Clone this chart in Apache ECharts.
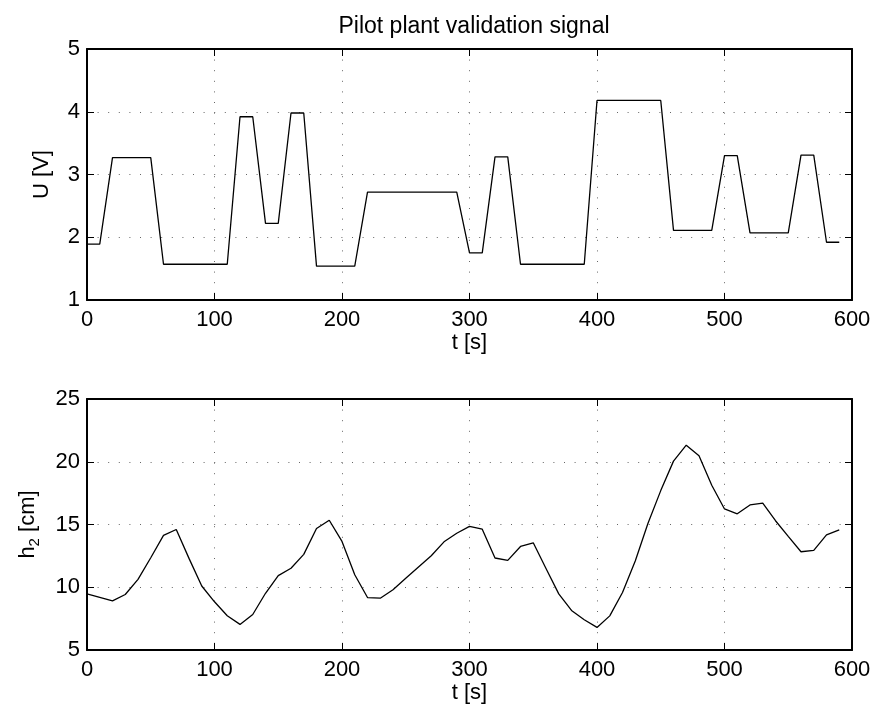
<!DOCTYPE html>
<html lang="en">
<head>
    <meta charset="UTF-8">
    <title>Pilot plant validation signal</title>
    <script type="text/javascript" src="https://cdn.jsdelivr.net/npm/echarts@6/dist/echarts.min.js"></script>
    <style>
        body { margin: 0; background: #fff; }
        #chart { width: 877px; height: 719px; }
    </style>
</head>
<body>

<div id="chart"></div>

<script type="text/javascript">

    // time axis, one sample every 10 s
    var tSec = [0, 10, 20, 30, 40, 50, 60, 70, 80, 90,
        100, 110, 120, 130, 140, 150, 160, 170, 180, 190,
        200, 210, 220, 230, 240, 250, 260, 270, 280, 290,
        300, 310, 320, 330, 340, 350, 360, 370, 380, 390,
        400, 410, 420, 430, 440, 450, 460, 470, 480, 490,
        500, 510, 520, 530, 540, 550, 560, 570, 580, 590];

    // input voltage U [V]
    var uVolt = [1.89, 1.89, 3.27, 3.27, 3.27, 3.27, 1.57, 1.57, 1.57, 1.57,
        1.57, 1.57, 3.92, 3.92, 2.22, 2.22, 3.98, 3.98, 1.54, 1.54,
        1.54, 1.54, 2.72, 2.72, 2.72, 2.72, 2.72, 2.72, 2.72, 2.72,
        1.75, 1.75, 3.28, 3.28, 1.57, 1.57, 1.57, 1.57, 1.57, 1.57,
        4.18, 4.18, 4.18, 4.18, 4.18, 4.18, 2.11, 2.11, 2.11, 2.11,
        3.30, 3.30, 2.07, 2.07, 2.07, 2.07, 3.31, 3.31, 1.92, 1.92];

    // level h2 [cm]
    var h2Level = [9.47, 9.2, 8.92, 9.42, 10.63, 12.35, 14.13, 14.6, 12.3, 10.1,
        8.84, 7.73, 7.04, 7.83, 9.52, 10.93, 11.51, 12.62, 14.68, 15.34,
        13.65, 11.0, 9.18, 9.13, 9.8, 10.71, 11.61, 12.51, 13.62, 14.3,
        14.85, 14.63, 12.33, 12.14, 13.25, 13.54, 11.5, 9.47, 8.15, 7.41,
        6.8, 7.72, 9.58, 12.09, 15.1, 17.7, 20.05, 21.32, 20.48, 18.13,
        16.24, 15.85, 16.56, 16.7, 15.3, 14.05, 12.83, 12.94, 14.18, 14.58];

    var uTicks = [1, 5, 1];    // min, max, step
    var hTicks = [5, 25, 5];
    var tTicks = [0, 600, 100];

    var FONT = '"Liberation Sans", Arial, Helvetica, sans-serif';
    var FS = 22;

    function pairs(xs, ys) {
        var out = [];
        for (var i = 0; i < xs.length; i++) {
            out.push([xs[i], ys[i]]);
        }
        return out;
    }

    // bottom/left axes carry labels, top/right only draw the box and ticks
    function xAxisPair(gridIdx) {
        var base = {
            gridIndex: gridIdx, type: 'value',
            min: tTicks[0], max: tTicks[1], interval: tTicks[2],
            axisLine: {show: true, onZero: false, lineStyle: {color: '#000', width: 2}},
            axisTick: {show: true, inside: true, length: 7, lineStyle: {color: '#000', width: 1}}
        };
        var bottom = Object.assign({}, base, {
            position: 'bottom',
            name: 't [s]', nameLocation: 'middle', nameGap: 27,
            nameTextStyle: {fontFamily: FONT, fontSize: FS, color: '#000'},
            axisLabel: {fontFamily: FONT, fontSize: FS, color: '#000', margin: 9},
            splitLine: {show: true, lineStyle: {color: '#666', width: 1, type: [1, 9.6]}}
        });
        var top = Object.assign({}, base, {
            position: 'top',
            axisLabel: {show: false},
            splitLine: {show: false}
        });
        return [bottom, top];
    }

    function yAxisPair(gridIdx, ticks, name, gap) {
        var base = {
            gridIndex: gridIdx, type: 'value',
            min: ticks[0], max: ticks[1], interval: ticks[2],
            axisLine: {show: true, onZero: false, lineStyle: {color: '#000', width: 2}},
            axisTick: {show: true, inside: true, length: 7, lineStyle: {color: '#000', width: 1}}
        };
        var left = Object.assign({}, base, {
            position: 'left',
            name: name, nameLocation: 'middle', nameGap: gap,
            nameTextStyle: {
                fontFamily: FONT, fontSize: FS, color: '#000',
                rich: {
                    n: {fontFamily: FONT, fontSize: FS, color: '#000', lineHeight: 28},
                    s: {fontFamily: FONT, fontSize: 15, color: '#000', verticalAlign: 'bottom', lineHeight: 15}
                }
            },
            axisLabel: {fontFamily: FONT, fontSize: FS, color: '#000', margin: 7},
            splitLine: {show: true, lineStyle: {color: '#666', width: 1, type: [1, 9.6]}}
        });
        var right = Object.assign({}, base, {
            position: 'right',
            axisLabel: {show: false},
            splitLine: {show: false}
        });
        return [left, right];
    }

    var xs = xAxisPair(0).concat(xAxisPair(1));
    var ys = yAxisPair(0, uTicks, 'U [V]', 34).concat(yAxisPair(1, hTicks, '{n|h}{s|2}{n| [cm]}', 45));

    var option = {
        backgroundColor: '#fff',
        animation: false,
        title: {
            text: 'Pilot plant validation signal',
            left: 469, top: 10, textAlign: 'center',
            textStyle: {fontFamily: FONT, fontSize: 23, fontWeight: 'normal', color: '#000'}
        },
        grid: [
            {left: 87, top: 49, width: 765, height: 251, containLabel: false},
            {left: 87, top: 399, width: 765, height: 251, containLabel: false}
        ],
        xAxis: xs,
        yAxis: ys,
        series: [
            {
                name: 'U', type: 'line', xAxisIndex: 0, yAxisIndex: 0,
                data: pairs(tSec, uVolt),
                showSymbol: false, symbol: 'none',
                lineStyle: {color: '#000', width: 1.3}
            },
            {
                name: 'h2', type: 'line', xAxisIndex: 2, yAxisIndex: 2,
                data: pairs(tSec, h2Level),
                showSymbol: false, symbol: 'none',
                lineStyle: {color: '#000', width: 1.3}
            }
        ]
    };

    var chart = echarts.init(document.getElementById('chart'));
    chart.setOption(option);

</script>
</body>
</html>
